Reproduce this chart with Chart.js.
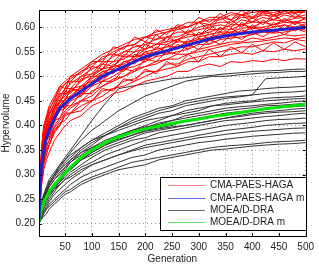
<!DOCTYPE html>
<html>
<head>
<meta charset="utf-8">
<script src="https://cdn.jsdelivr.net/npm/chart.js@4.4.1/dist/chart.umd.min.js"></script>
<style>
  html, body { margin: 0; padding: 0; background: #fff; }
  #wrap { width: 319px; height: 265px; }
</style>
</head>
<body>
<div id="wrap"><canvas id="hvChart" width="319" height="265"></canvas></div>
<script>
const gensRed = [1, 3, 6, 10, 15, 20, 30, 40, 50, 60, 80, 100, 120, 140, 160, 180, 200, 220, 240, 260, 280, 300, 320, 340, 360, 380, 400, 420, 440, 460, 480, 500];
const gensBlack = [1, 3, 6, 10, 15, 20, 30, 40, 50, 60, 80, 100, 125, 150, 175, 200, 225, 250, 275, 300, 325, 350, 375, 400, 425, 450, 475, 500];

const xTicks = [50, 100, 150, 200, 250, 300, 350, 400, 450, 500];
const yTicks = [0.20, 0.25, 0.30, 0.35, 0.40, 0.45, 0.50, 0.55, 0.60];

// CMA-PAES-HAGA single runs
const redRuns = [
  [0.21,0.29,0.35,0.39,0.41,0.425,0.445,0.47,0.485,0.49,0.51,0.52,0.54,0.545,0.56,0.565,0.58,0.575,0.59,0.595,0.60,0.61,0.605,0.62,0.615,0.625,0.62,0.63,0.625,0.632,0.628,0.634],
  [0.22,0.28,0.34,0.37,0.40,0.41,0.44,0.455,0.475,0.475,0.50,0.505,0.53,0.53,0.55,0.55,0.57,0.565,0.58,0.58,0.59,0.595,0.60,0.605,0.60,0.615,0.61,0.62,0.615,0.625,0.62,0.625],
  [0.21,0.27,0.33,0.37,0.39,0.40,0.43,0.45,0.46,0.475,0.48,0.50,0.515,0.52,0.54,0.54,0.555,0.565,0.565,0.575,0.58,0.585,0.59,0.598,0.595,0.605,0.60,0.61,0.605,0.615,0.61,0.617],
  [0.20,0.26,0.32,0.36,0.38,0.395,0.42,0.44,0.455,0.46,0.48,0.49,0.505,0.52,0.525,0.54,0.545,0.55,0.56,0.56,0.57,0.575,0.58,0.585,0.59,0.59,0.598,0.595,0.60,0.605,0.60,0.607],
  [0.21,0.26,0.31,0.34,0.37,0.38,0.41,0.43,0.435,0.45,0.46,0.48,0.49,0.50,0.515,0.52,0.53,0.54,0.545,0.55,0.555,0.565,0.565,0.575,0.578,0.58,0.585,0.59,0.588,0.59,0.595,0.595],
  [0.20,0.25,0.30,0.33,0.36,0.37,0.40,0.415,0.43,0.44,0.45,0.47,0.48,0.495,0.50,0.515,0.52,0.53,0.535,0.545,0.545,0.555,0.56,0.565,0.57,0.57,0.578,0.575,0.58,0.585,0.582,0.585],
  [0.22,0.30,0.36,0.40,0.42,0.44,0.46,0.48,0.49,0.50,0.515,0.53,0.545,0.555,0.565,0.575,0.58,0.59,0.595,0.60,0.61,0.61,0.62,0.62,0.63,0.625,0.635,0.63,0.636,0.634,0.636,0.636],
  [0.20,0.24,0.29,0.32,0.34,0.36,0.385,0.40,0.42,0.425,0.44,0.45,0.47,0.475,0.49,0.495,0.51,0.51,0.525,0.525,0.535,0.54,0.545,0.55,0.555,0.56,0.56,0.565,0.57,0.568,0.575,0.572],
  [0.20,0.24,0.28,0.31,0.33,0.345,0.37,0.385,0.40,0.41,0.42,0.44,0.45,0.465,0.47,0.48,0.49,0.495,0.50,0.51,0.51,0.52,0.525,0.52,0.53,0.528,0.532,0.53,0.535,0.532,0.536,0.535],
  [0.21,0.25,0.30,0.33,0.35,0.36,0.39,0.405,0.41,0.425,0.43,0.45,0.46,0.475,0.48,0.49,0.50,0.51,0.515,0.52,0.53,0.53,0.54,0.54,0.545,0.548,0.545,0.552,0.55,0.555,0.552,0.556],
  [0.21,0.28,0.33,0.37,0.39,0.41,0.435,0.45,0.465,0.47,0.49,0.505,0.515,0.53,0.535,0.55,0.555,0.565,0.57,0.575,0.585,0.585,0.595,0.595,0.605,0.605,0.61,0.61,0.615,0.612,0.618,0.62],
  [0.20,0.27,0.32,0.36,0.385,0.40,0.43,0.44,0.455,0.47,0.475,0.495,0.51,0.515,0.53,0.535,0.55,0.555,0.56,0.57,0.57,0.58,0.585,0.59,0.59,0.598,0.60,0.60,0.605,0.61,0.608,0.61],
  [0.21,0.27,0.32,0.35,0.375,0.39,0.41,0.435,0.44,0.455,0.465,0.485,0.495,0.51,0.515,0.53,0.535,0.545,0.55,0.558,0.56,0.57,0.572,0.58,0.582,0.587,0.588,0.592,0.59,0.597,0.595,0.60],
  [0.22,0.29,0.34,0.38,0.40,0.42,0.445,0.46,0.475,0.485,0.50,0.515,0.525,0.54,0.55,0.56,0.565,0.575,0.58,0.59,0.59,0.60,0.605,0.61,0.61,0.62,0.618,0.625,0.622,0.628,0.63,0.63],
  [0.20,0.25,0.30,0.33,0.355,0.37,0.395,0.41,0.425,0.435,0.45,0.46,0.48,0.49,0.50,0.51,0.52,0.525,0.535,0.535,0.545,0.55,0.555,0.56,0.565,0.568,0.57,0.572,0.575,0.578,0.576,0.58],
  [0.21,0.29,0.35,0.39,0.415,0.43,0.455,0.475,0.485,0.495,0.51,0.525,0.535,0.55,0.56,0.565,0.58,0.585,0.59,0.60,0.60,0.61,0.615,0.615,0.625,0.625,0.63,0.632,0.63,0.635,0.633,0.636],
  [0.21,0.28,0.345,0.375,0.40,0.405,0.44,0.445,0.47,0.465,0.495,0.50,0.525,0.52,0.545,0.54,0.565,0.555,0.58,0.57,0.595,0.58,0.605,0.59,0.615,0.60,0.62,0.605,0.625,0.61,0.628,0.615],
  [0.20,0.27,0.31,0.36,0.37,0.395,0.405,0.44,0.435,0.46,0.46,0.49,0.49,0.515,0.51,0.535,0.53,0.55,0.545,0.565,0.555,0.578,0.565,0.59,0.575,0.595,0.585,0.60,0.588,0.605,0.592,0.605],
  [0.22,0.30,0.35,0.40,0.41,0.435,0.45,0.48,0.475,0.50,0.505,0.53,0.53,0.56,0.555,0.58,0.57,0.595,0.585,0.605,0.60,0.62,0.61,0.628,0.615,0.634,0.62,0.636,0.625,0.636,0.63,0.636],
  [0.20,0.255,0.315,0.335,0.37,0.375,0.41,0.415,0.44,0.44,0.465,0.465,0.49,0.49,0.515,0.51,0.535,0.53,0.55,0.545,0.565,0.555,0.575,0.565,0.585,0.575,0.59,0.58,0.595,0.585,0.598,0.59],
  [0.21,0.275,0.32,0.365,0.38,0.405,0.42,0.45,0.45,0.475,0.47,0.50,0.50,0.525,0.515,0.545,0.535,0.56,0.55,0.575,0.565,0.59,0.575,0.60,0.585,0.61,0.595,0.615,0.60,0.618,0.605,0.62],
  [0.20,0.245,0.295,0.325,0.35,0.36,0.39,0.40,0.425,0.425,0.45,0.45,0.475,0.47,0.495,0.49,0.515,0.505,0.53,0.52,0.545,0.53,0.555,0.54,0.56,0.548,0.565,0.552,0.568,0.555,0.57,0.56],
  [0.21,0.29,0.335,0.385,0.395,0.425,0.435,0.465,0.465,0.49,0.49,0.52,0.515,0.545,0.54,0.565,0.555,0.585,0.57,0.60,0.585,0.61,0.595,0.62,0.605,0.625,0.61,0.63,0.615,0.634,0.62,0.634],
  [0.21,0.265,0.325,0.35,0.385,0.385,0.425,0.43,0.455,0.455,0.48,0.48,0.51,0.505,0.53,0.525,0.55,0.54,0.565,0.555,0.575,0.565,0.59,0.575,0.598,0.585,0.605,0.59,0.61,0.595,0.612,0.60]
];
// CMA-PAES-HAGA mean
const redMean = [0.21,0.27,0.32,0.35,0.375,0.39,0.415,0.435,0.445,0.455,0.47,0.485,0.50,0.51,0.52,0.53,0.54,0.546,0.552,0.558,0.564,0.57,0.576,0.58,0.584,0.587,0.59,0.592,0.594,0.596,0.598,0.60];

// MOEA/D-DRA single runs
const blackRuns = [
  [0.21,0.22,0.24,0.26,0.27,0.285,0.30,0.32,0.335,0.35,0.38,0.41,0.445,0.475,0.48,0.485,0.49,0.495,0.497,0.50,0.502,0.505,0.507,0.51,0.511,0.512,0.514,0.515],
  [0.20,0.22,0.235,0.25,0.265,0.28,0.30,0.315,0.33,0.345,0.37,0.39,0.41,0.43,0.445,0.46,0.47,0.48,0.49,0.495,0.50,0.50,0.503,0.505,0.507,0.508,0.51,0.51],
  [0.20,0.21,0.225,0.24,0.255,0.265,0.28,0.295,0.31,0.325,0.345,0.36,0.38,0.395,0.41,0.42,0.43,0.437,0.445,0.45,0.455,0.458,0.46,0.462,0.495,0.497,0.498,0.50],
  [0.21,0.22,0.235,0.255,0.27,0.28,0.30,0.31,0.325,0.335,0.355,0.37,0.385,0.40,0.415,0.425,0.435,0.44,0.45,0.455,0.46,0.465,0.47,0.472,0.475,0.477,0.478,0.48],
  [0.20,0.215,0.23,0.245,0.26,0.275,0.29,0.305,0.315,0.33,0.35,0.365,0.38,0.395,0.405,0.415,0.425,0.43,0.44,0.445,0.45,0.455,0.458,0.462,0.465,0.467,0.468,0.47],
  [0.20,0.21,0.225,0.24,0.25,0.26,0.275,0.29,0.30,0.315,0.335,0.35,0.365,0.38,0.39,0.40,0.41,0.42,0.425,0.43,0.44,0.445,0.448,0.45,0.455,0.457,0.458,0.46],
  [0.21,0.225,0.245,0.26,0.275,0.29,0.305,0.32,0.33,0.34,0.355,0.37,0.38,0.39,0.40,0.41,0.415,0.42,0.43,0.435,0.44,0.442,0.445,0.448,0.45,0.452,0.454,0.455],
  [0.20,0.215,0.23,0.245,0.255,0.265,0.28,0.29,0.30,0.31,0.33,0.345,0.36,0.375,0.385,0.395,0.405,0.41,0.42,0.425,0.43,0.435,0.438,0.44,0.443,0.445,0.448,0.45],
  [0.21,0.22,0.235,0.25,0.265,0.275,0.29,0.30,0.315,0.325,0.34,0.355,0.37,0.38,0.39,0.397,0.402,0.41,0.415,0.42,0.425,0.43,0.433,0.436,0.44,0.441,0.443,0.445],
  [0.20,0.21,0.22,0.235,0.245,0.255,0.27,0.285,0.30,0.31,0.33,0.345,0.36,0.37,0.38,0.39,0.395,0.40,0.41,0.415,0.42,0.425,0.428,0.43,0.433,0.436,0.438,0.44],
  [0.20,0.215,0.23,0.24,0.255,0.265,0.28,0.295,0.305,0.315,0.33,0.34,0.355,0.365,0.375,0.385,0.39,0.395,0.40,0.405,0.41,0.415,0.42,0.425,0.428,0.43,0.433,0.435],
  [0.21,0.22,0.23,0.245,0.255,0.26,0.275,0.285,0.295,0.305,0.32,0.335,0.35,0.36,0.37,0.375,0.385,0.39,0.395,0.40,0.405,0.41,0.412,0.415,0.418,0.42,0.423,0.425],
  [0.20,0.21,0.22,0.23,0.24,0.25,0.265,0.28,0.29,0.30,0.315,0.325,0.34,0.35,0.36,0.37,0.375,0.38,0.385,0.39,0.395,0.40,0.403,0.406,0.41,0.412,0.413,0.415],
  [0.20,0.205,0.215,0.225,0.235,0.245,0.26,0.27,0.28,0.29,0.305,0.32,0.33,0.34,0.35,0.36,0.365,0.37,0.375,0.38,0.385,0.39,0.393,0.396,0.40,0.402,0.404,0.405],
  [0.20,0.21,0.225,0.24,0.25,0.26,0.27,0.28,0.29,0.295,0.31,0.32,0.33,0.34,0.348,0.355,0.36,0.365,0.37,0.375,0.378,0.382,0.385,0.388,0.39,0.392,0.394,0.395],
  [0.20,0.205,0.215,0.225,0.23,0.24,0.25,0.26,0.27,0.28,0.295,0.305,0.315,0.325,0.335,0.34,0.35,0.355,0.36,0.365,0.368,0.372,0.375,0.378,0.38,0.382,0.384,0.385],
  [0.20,0.205,0.21,0.22,0.23,0.235,0.245,0.255,0.265,0.27,0.285,0.295,0.305,0.315,0.325,0.33,0.335,0.34,0.345,0.35,0.355,0.358,0.36,0.362,0.365,0.367,0.368,0.37],
  [0.20,0.205,0.21,0.215,0.22,0.23,0.24,0.25,0.26,0.265,0.28,0.29,0.30,0.31,0.315,0.32,0.33,0.335,0.34,0.345,0.35,0.352,0.355,0.358,0.36,0.362,0.363,0.365],
  [0.21,0.225,0.24,0.255,0.27,0.28,0.295,0.31,0.32,0.33,0.345,0.355,0.365,0.372,0.38,0.388,0.393,0.397,0.40,0.405,0.41,0.415,0.418,0.422,0.425,0.427,0.428,0.43]
];
// MOEA/D-DRA mean
const blackMean = [0.205,0.215,0.23,0.245,0.255,0.265,0.28,0.292,0.303,0.315,0.335,0.35,0.365,0.377,0.386,0.393,0.399,0.404,0.409,0.413,0.418,0.422,0.426,0.43,0.434,0.437,0.44,0.443];

const seriesNames = ['CMA-PAES-HAGA', 'CMA-PAES-HAGA m', 'MOEA/D-DRA', 'MOEA/D-DRA m'];
const seriesColors = ['#ff0000', '#2222cc', '#333333', '#00e600'];
const legendColors = ['#ff8080', '#6060e0', '#666666', '#66e066'];

function toPoints(gens, vals) {
  return vals.map((v, i) => ({ x: gens[i], y: v }));
}

const datasets = [];
redRuns.forEach(run => {
  datasets.push({ data: toPoints(gensRed, run), borderColor: seriesColors[0], borderWidth: 1, order: 3 });
});
blackRuns.forEach(run => {
  datasets.push({ data: toPoints(gensBlack, run), borderColor: seriesColors[2], borderWidth: 1, order: 4 });
});
datasets.push({ data: toPoints(gensRed, redMean), borderColor: seriesColors[1], borderWidth: 3, order: 1 });
datasets.push({ data: toPoints(gensBlack, blackMean), borderColor: seriesColors[3], borderWidth: 3, order: 2 });

const FONT = 'Liberation Sans, Arial, sans-serif';

// box, inward ticks and the legend, in the matlab way
const framePlugin = {
  id: 'frame',
  afterDraw(chart) {
    const ctx = chart.ctx;
    const a = chart.chartArea;
    const xs = chart.scales.x, ys = chart.scales.y;
    ctx.save();
    ctx.strokeStyle = '#000';
    ctx.lineWidth = 1;
    ctx.strokeRect(Math.round(a.left) + 0.5, Math.round(a.top) + 0.5, Math.round(a.right - a.left), Math.round(a.bottom - a.top));
    ctx.beginPath();
    xTicks.forEach(t => {
      const px = Math.round(xs.getPixelForValue(t)) + 0.5;
      ctx.moveTo(px, a.bottom); ctx.lineTo(px, a.bottom - 3);
      ctx.moveTo(px, a.top); ctx.lineTo(px, a.top + 3);
    });
    yTicks.forEach(t => {
      const py = Math.round(ys.getPixelForValue(t)) + 0.5;
      ctx.moveTo(a.left, py); ctx.lineTo(a.left + 3, py);
      ctx.moveTo(a.right, py); ctx.lineTo(a.right - 3, py);
    });
    ctx.stroke();

    // legend
    const bx = 160.5, by = 177.5, bw = 146, bh = 53;
    ctx.fillStyle = '#fff';
    ctx.fillRect(bx, by, bw, bh);
    ctx.strokeStyle = '#000';
    ctx.strokeRect(bx, by, bw, bh);
    const rows = [185, 198, 210, 222];
    ctx.font = '10px ' + FONT;
    ctx.textBaseline = 'middle';
    seriesNames.forEach((name, i) => {
      ctx.strokeStyle = legendColors[i];
      ctx.lineWidth = 1;
      ctx.beginPath();
      ctx.moveTo(168, rows[i] + 0.5);
      ctx.lineTo(205, rows[i] + 0.5);
      ctx.stroke();
      ctx.fillStyle = '#222';
      ctx.fillText(name, 210, rows[i] + 0.5);
    });
    ctx.restore();
  }
};

new Chart(document.getElementById('hvChart'), {
  type: 'line',
  data: { datasets: datasets },
  options: {
    responsive: false,
    animation: false,
    events: [],
    layout: { padding: { left: 0, right: 8, top: 6, bottom: 0 } },
    elements: { point: { radius: 0 }, line: { tension: 0, fill: false } },
    plugins: { legend: { display: false }, tooltip: { enabled: false } },
    scales: {
      x: {
        type: 'linear',
        min: 1,
        max: 500,
        afterBuildTicks: s => { s.ticks = xTicks.map(v => ({ value: v })); },
        afterFit: s => { s.height = 29; },
        grid: { color: '#9a9a9a', drawTicks: false, lineWidth: 1 },
        border: { display: false, dash: [1, 3] },
        ticks: { color: '#222', font: { family: FONT, size: 10 }, padding: 5, maxRotation: 0 },
        title: { display: true, text: 'Generation', color: '#222', font: { family: FONT, size: 10 }, padding: { top: 0, bottom: 0 } }
      },
      y: {
        min: 0.175,
        max: 0.635,
        afterBuildTicks: s => { s.ticks = yTicks.map(v => ({ value: v })); },
        afterFit: s => { s.width = 39; },
        grid: { color: '#9a9a9a', drawTicks: false, lineWidth: 1 },
        border: { display: false, dash: [1, 3] },
        ticks: { color: '#222', font: { family: FONT, size: 10 }, padding: 4, callback: v => v.toFixed(2) },
        title: { display: true, text: 'Hypervolume', color: '#222', font: { family: FONT, size: 10 }, padding: { top: 0, bottom: 1 } }
      }
    }
  },
  plugins: [framePlugin]
});
</script>
</body>
</html>
